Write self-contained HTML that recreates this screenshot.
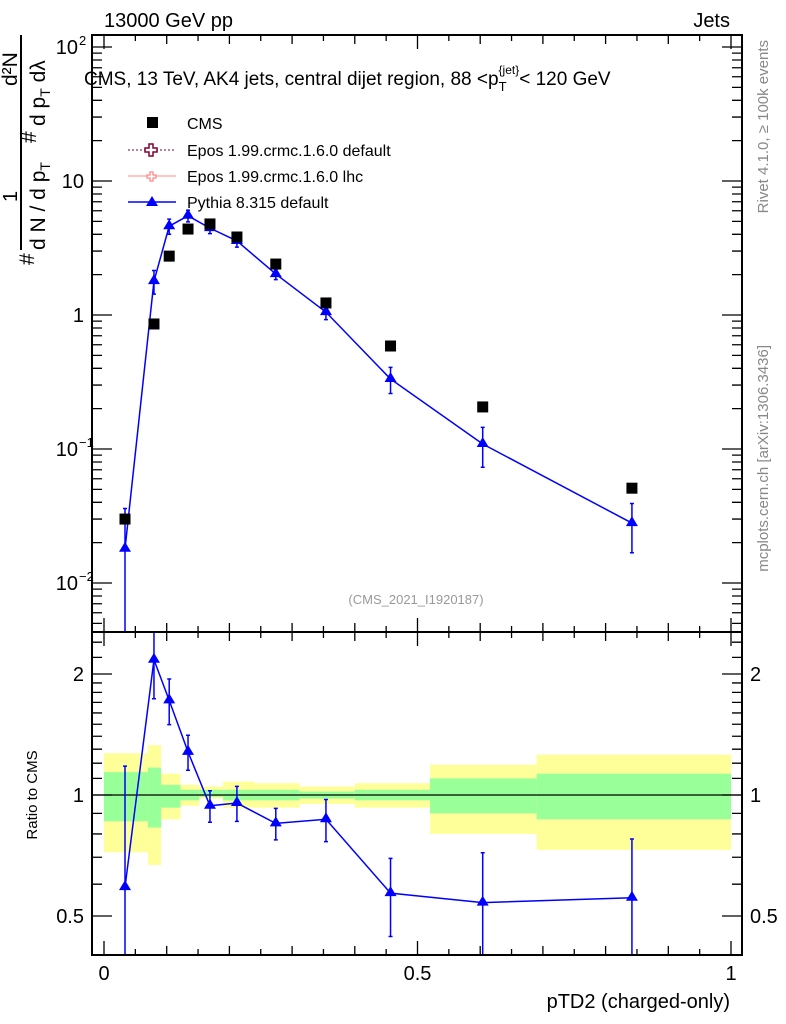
<!DOCTYPE html>
<html><head><meta charset="utf-8"><style>
body{margin:0;background:#fff;}
svg{display:block;font-family:"Liberation Sans",sans-serif;}
</style></head><body>
<svg id="c" width="786" height="1024" viewBox="0 0 786 1024" xmlns="http://www.w3.org/2000/svg">
<text x="104" y="27" font-size="20">13000 GeV pp</text>
<text x="730" y="27" font-size="20" text-anchor="end">Jets</text>
<text x="84" y="85" font-size="19">CMS, 13 TeV, AK4 jets, central dijet region, 88 &lt;p<tspan font-size="13" dy="6">T</tspan><tspan font-size="12" dy="-17" dx="-8">{jet}</tspan><tspan dy="11">&lt; 120 GeV</tspan></text>
<text transform="translate(768,40) rotate(-90)" font-size="15" fill="#888" text-anchor="end">Rivet 4.1.0, ≥ 100k events</text>
<text transform="translate(768,345) rotate(-90)" font-size="15" fill="#888" text-anchor="end">mcplots.cern.ch [arXiv:1306.3436]</text>
<text x="416" y="604" font-size="13" fill="#999" text-anchor="middle">(CMS_2021_I1920187)</text>
<g transform="rotate(-90)" font-size="21">
<text x="-265" y="34" font-size="21">#</text>
<text x="-202" y="17" font-size="20">1</text>
<line x1="-250" y1="21" x2="-35" y2="21" stroke="#000" stroke-width="2"/>
<text x="-250" y="45">d N / d p<tspan font-size="14" dy="5">T</tspan></text>
<text x="-143" y="36" font-size="21">#</text>
<text x="-126" y="45">d p<tspan font-size="14" dy="5">T</tspan><tspan dy="-5"> dλ</tspan></text>
<text x="-86" y="17">d²N</text>
</g>
<text transform="translate(37,795) rotate(-90)" font-size="15" text-anchor="middle">Ratio to CMS</text>
<text x="730" y="1008" font-size="20" text-anchor="end">pTD2 (charged-only)</text>
<g id="bands"></g><g id="main"></g><g id="ratio"></g><g id="axes"></g>
<g font-size="16">
<rect x="147" y="117" width="11" height="11" fill="#000"/>
<text x="187" y="129">CMS</text>
<line x1="128" y1="150" x2="176" y2="150" stroke="#800030" stroke-dasharray="2,2"/>
<path d="M149 144h4v4h4v4h-4v4h-4v-4h-4v-4h4z" fill="#fff" stroke="#800030" stroke-width="1.5"/>
<text x="187" y="156">Epos 1.99.crmc.1.6.0 default</text>
<line x1="128" y1="176" x2="176" y2="176" stroke="#f88"/>
<path d="M150 172h3v3h3v3h-3v3h-3v-3h-3v-3h3z" fill="#fff" stroke="#f88" stroke-width="1.3"/>
<text x="187" y="182">Epos 1.99.crmc.1.6.0 lhc</text>
<line x1="128" y1="202" x2="176" y2="202" stroke="#00f" stroke-width="1.5"/>
<path d="M152 196l6 10h-12z" fill="#00f"/>
<text x="187" y="208">Pythia 8.315 default</text>
</g>
</svg>
<script>
const xVals=[0.0335,0.0797,0.104,0.134,0.169,0.212,0.274,0.354,0.457,0.604,0.842];
const cmsVals=[0.030,0.857,2.75,4.38,4.78,3.82,2.40,1.23,0.587,0.206,0.051];
const pythiaVals=[0.018,1.79,4.6,5.5,4.45,3.57,2.02,1.05,0.333,0.109,0.028];
const ratioVals=[0.59,2.17,1.72,1.28,0.94,0.955,0.85,0.87,0.57,0.54,0.555];
const ratioErr=[1.0,0.2,0.13,0.1,0.09,0.1,0.09,0.12,0.22,0.33,0.4];
const binEdges=[0,0.07,0.091,0.122,0.152,0.19,0.24,0.312,0.4,0.52,0.69,1];
const yellowUp=[1.27,1.33,1.13,1.06,1.05,1.08,1.07,1.05,1.07,1.19,1.26];
const yellowDn=[0.72,0.67,0.87,0.94,0.98,0.93,0.93,0.95,0.93,0.80,0.73];
const greenUp=[1.14,1.17,1.06,1.03,1.03,1.03,1.03,1.02,1.03,1.10,1.13];
const greenDn=[0.86,0.83,0.93,0.97,0.99,0.97,0.97,0.98,0.97,0.90,0.87];
const xTicks=[0,0.5,1];
const NS="http://www.w3.org/2000/svg";
const L=92,R=742,T=35,MB=632,RB=955;
const X=v=>104+v*627;
const Y=v=>315-134*Math.log10(v);
const YR=v=>795-121*Math.log2(v);
function mk(p,tag,at){const e=document.createElementNS(NS,tag);for(const k in at)e.setAttribute(k,at[k]);p.appendChild(e);return e;}
const bands=document.getElementById('bands'),main=document.getElementById('main'),ratio=document.getElementById('ratio'),axes=document.getElementById('axes');
for(let i=0;i<yellowUp.length;i++){
 const x0=X(binEdges[i]),x1=X(binEdges[i+1]);
 const y=mk(bands,'rect',{x:x0,y:YR(yellowUp[i]),width:x1-x0,height:YR(yellowDn[i])-YR(yellowUp[i]),fill:'#ffff99'});
 
 
 const g=mk(bands,'rect',{x:x0,y:YR(greenUp[i]),width:x1-x0,height:YR(greenDn[i])-YR(greenUp[i]),fill:'#99ff99'});
 
 
}
mk(bands,'line',{x1:L,x2:R,y1:YR(1),y2:YR(1),stroke:'#000','stroke-width':1.2});
function clampM(y){return Math.max(T,Math.min(MB,y));}
function clampR(y){return Math.max(MB,Math.min(RB,y));}
function tri(p,x,y){return mk(p,'path',{d:`M${x} ${y-7}l6 10h-12z`,fill:'#00f'});}
let pm='',pr='';
xVals.forEach((xv,i)=>{
 const x=X(xv);
 const pv=pythiaVals[i],e=ratioErr[i];
 const yt=clampM(Y(pv*(1+e))),yb=clampM(Y(Math.max(pv*(1-e),1e-4)));
 const eb=mk(main,'path',{d:`M${x} ${yt}V${yb}M${x-2} ${yt}h4M${x-2} ${yb}h4`,stroke:'#00f','stroke-width':1.5,fill:'none'});
 
 
 pm+=(i?'L':'M')+x+' '+Y(pv);
 const rv=ratioVals[i];
 const rt=clampR(YR(rv*(1+e))),rb=clampR(YR(Math.max(rv*(1-e),0.01)));
 const re=mk(ratio,'path',{d:`M${x} ${rt}V${rb}M${x-2} ${rt}h4M${x-2} ${rb}h4`,stroke:'#00f','stroke-width':1.5,fill:'none'});
 
 
 pr+=(i?'L':'M')+x+' '+YR(rv);
});
mk(main,'path',{d:pm,stroke:'#00f','stroke-width':1.5,fill:'none'});
mk(ratio,'path',{d:pr,stroke:'#00f','stroke-width':1.5,fill:'none'});
xVals.forEach((xv,i)=>{
 const x=X(xv);
 const t=tri(main,x,Y(pythiaVals[i]));
 
 
 const s=mk(main,'rect',{x:x-5.5,y:Y(cmsVals[i])-5.5,width:11,height:11,fill:'#000'});
 
 
 const r=tri(ratio,x,YR(ratioVals[i]));
 
 
});
mk(axes,'rect',{x:L,y:T,width:R-L,height:MB-T,fill:'none',stroke:'#000','stroke-width':2});
mk(axes,'rect',{x:L,y:MB,width:R-L,height:RB-MB,fill:'none',stroke:'#000','stroke-width':2});
let d='';
for(let v=0;v<=1.0001;v+=0.05){const x=X(v);const big=Math.abs(v*2-Math.round(v*2))<1e-6;const l=big?14:(Math.abs(v*10-Math.round(v*10))<1e-6?9:6);
 d+=`M${x} ${MB}v${-l}M${x} ${T}v${l}M${x} ${RB}v${-l}M${x} ${MB}v${l}`;}
for(let p=-3;p<=2;p++){for(let m=1;m<10;m++){const v=m*Math.pow(10,p);const y=Y(v);if(y<T||y>MB)continue;const l=m==1?20:10;d+=`M${L} ${y}h${l}M${R} ${y}h${-l}`;}}
[0.4,0.5,0.6,0.7,0.8,0.9,1,1.1,1.2,1.3,1.4,1.5,1.6,1.7,1.8,1.9,2,2.2,2.4].forEach(v=>{const y=YR(v);if(y<MB||y>RB)return;const l=(v==0.5||v==1||v==2)?20:10;d+=`M${L} ${y}h${l}M${R} ${y}h${-l}`;});
mk(axes,'path',{d:d,stroke:'#000','stroke-width':1.3,fill:'none'});
xTicks.forEach(v=>{const t=mk(axes,'text',{x:X(v),y:980,'font-size':20,'text-anchor':'middle'});t.textContent=String(v);
 
 });
const yl=[[100,'10','2'],[10,'10',''],[1,'1',''],[0.1,'10','−1'],[0.01,'10','−2']];
yl.forEach(([v,b,e])=>{const t=mk(axes,'text',{x:e?78:84,y:Y(v)+7,'font-size':20,'text-anchor':'end'});t.textContent=b;
 
 
 if(e){const s=mk(axes,'text',{x:79,y:Y(v)-2,'font-size':13});s.textContent=e;}});
[[2,'2'],[1,'1'],[0.5,'0.5']].forEach(([v,s])=>{
 const a=mk(axes,'text',{x:84,y:YR(v)+7,'font-size':20,'text-anchor':'end'});a.textContent=s;
 
 
 const b=mk(axes,'text',{x:750,y:YR(v)+7,'font-size':20});b.textContent=s;
 
 });
</script>
</body></html>
